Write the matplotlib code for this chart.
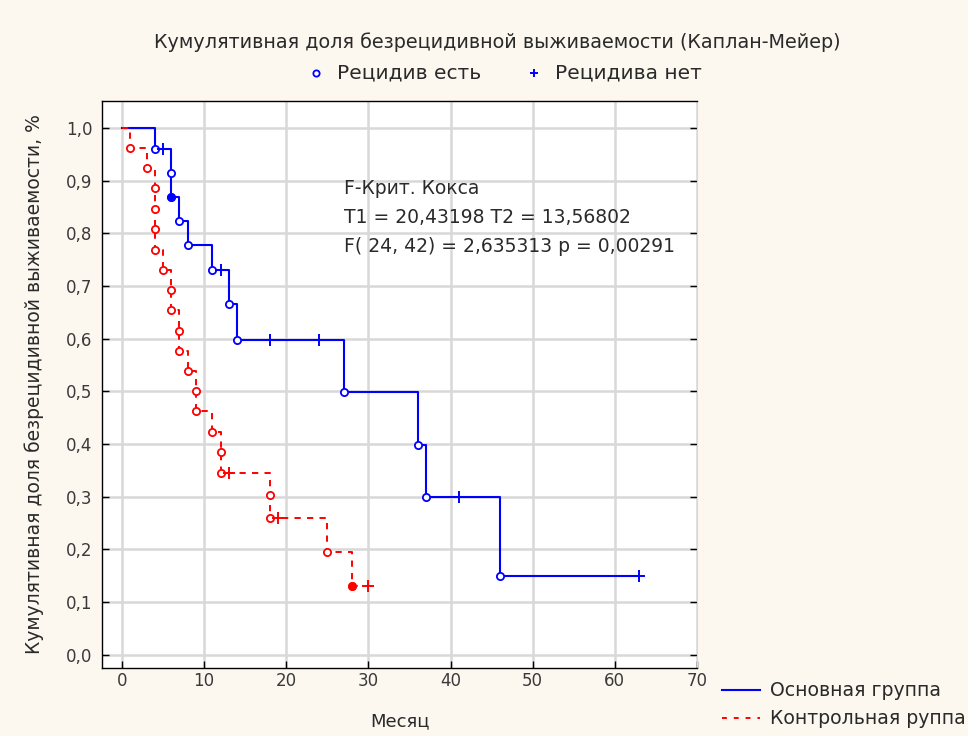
import matplotlib
matplotlib.use("Agg")
import matplotlib.pyplot as plt
from matplotlib.lines import Line2D

plt.rcParams['font.family'] = ['DejaVu Sans']
plt.rcParams['lines.scale_dashes'] = False

# Main group: event times (months) and Kaplan-Meier survival after each event
main_event_t = [4, 6, 6, 7, 8, 11, 13, 14, 27, 36, 37, 46]
main_event_s = [0.96, 0.914, 0.869, 0.823, 0.777, 0.731, 0.665, 0.598, 0.499, 0.399, 0.299, 0.150]
main_cens_t = [5, 12, 18, 24, 41, 63]
main_cens_s = [0.96, 0.731, 0.598, 0.598, 0.299, 0.150]
main_filled = [2]  # index of event drawn with a filled marker

# Control group
ctrl_event_t = [1, 3, 4, 4, 4, 4, 5, 6, 6, 7, 7, 8, 9, 9, 11, 12, 12, 18, 18, 25, 28]
ctrl_event_s = [0.962, 0.923, 0.885, 0.846, 0.808, 0.769, 0.731, 0.692, 0.654, 0.615,
                0.577, 0.538, 0.500, 0.462, 0.423, 0.385, 0.346, 0.303, 0.260, 0.195, 0.130]
ctrl_cens_t = [13, 19, 30]
ctrl_cens_s = [0.346, 0.260, 0.130]
ctrl_filled = [20]

x_ticks = [0, 10, 20, 30, 40, 50, 60, 70]
y_ticks = [0.0, 0.1, 0.2, 0.3, 0.4, 0.5, 0.6, 0.7, 0.8, 0.9, 1.0]

title = "Кумулятивная доля безрецидивной выживаемости (Каплан-Мейер)"
x_label = "Месяц"
y_label = "Кумулятивная доля безрецидивной выживаемости, %"
stats_lines = ["F-Крит. Кокса", "T1 = 20,43198 T2 = 13,56802", "F( 24, 42) = 2,635313 p = 0,00291"]
group_names = ["Основная группа", "Контрольная руппа"]
marker_names = ["Рецидив есть", "Рецидива нет"]

BLUE = "#0000ff"
RED = "#ff0000"
BG = "#fcf8ef"
TXT = "#2a2a2a"


def step_path(ev_t, ev_s, end_t):
    xs, ys = [0.0], [1.0]
    cur = 1.0
    for t, s in zip(ev_t, ev_s):
        xs += [t, t]
        ys += [cur, s]
        cur = s
    xs.append(end_t)
    ys.append(cur)
    return xs, ys


fig = plt.figure(figsize=(9.68, 7.36), dpi=100, facecolor=BG)
ax = fig.add_axes([102 / 968, 1 - 668 / 736, (697 - 102) / 968, (668 - 101) / 736])
ax.set_facecolor("white")

ax.set_xlim(-2.43, 70)
ax.set_ylim(-0.025, 1.051)
ax.set_xticks(x_ticks)
ax.set_yticks(y_ticks)
ax.set_xticklabels([str(v) for v in x_ticks])
ax.set_yticklabels([f"{v:.1f}".replace(".", ",") for v in y_ticks])
ax.grid(True, color="#d8d8d8", linewidth=1.8)
ax.set_axisbelow(True)
ax.tick_params(axis="both", direction="in", length=5, width=1, labelsize=12,
               colors="black", labelcolor="#3a3a3a")
ax.tick_params(axis="y", right=True, pad=7)
ax.tick_params(axis="x", pad=3)
for side in ["left", "bottom", "top"]:
    ax.spines[side].set_color("black")
    ax.spines[side].set_linewidth(1)
ax.spines["right"].set_color("#d8d8d8")

# Main group curve (solid)
mx, my = step_path(main_event_t, main_event_s, max(main_cens_t))
ax.plot(mx, my, color=BLUE, linewidth=1.5)
ax.plot(main_event_t, main_event_s, linestyle="none", marker="o", markersize=5.2,
        markerfacecolor="white", markeredgecolor=BLUE, markeredgewidth=1.3)
ax.plot([main_event_t[i] for i in main_filled], [main_event_s[i] for i in main_filled],
        linestyle="none", marker="o", markersize=5.2, color=BLUE)
ax.plot(main_cens_t, main_cens_s, linestyle="none", marker="+", markersize=8,
        markeredgewidth=1.4, color=BLUE)

# Control group curve (dashed)
cx, cy = step_path(ctrl_event_t, ctrl_event_s, max(ctrl_cens_t))
ln, = ax.plot(cx, cy, color=RED, linewidth=1.4)
ln.set_dashes([4.5, 4.5])
ax.plot(ctrl_event_t, ctrl_event_s, linestyle="none", marker="o", markersize=5.2,
        markerfacecolor="white", markeredgecolor=RED, markeredgewidth=1.3)
ax.plot([ctrl_event_t[i] for i in ctrl_filled], [ctrl_event_s[i] for i in ctrl_filled],
        linestyle="none", marker="o", markersize=5.2, color=RED)
ax.plot(ctrl_cens_t, ctrl_cens_s, linestyle="none", marker="+", markersize=8,
        markeredgewidth=1.4, color=RED)

# Cox F-test results
for i, s in enumerate(stats_lines):
    ax.text(27.0, 0.885 - i * 0.055, s, fontsize=13.5, color=TXT, va="center", ha="left")

ax.set_ylabel(y_label, fontsize=13.5, color=TXT, labelpad=16)
fig.text(400 / 968, 1 - 721 / 736, x_label, fontsize=13, ha="center", va="center", color=TXT)

fig.text(497 / 968, 1 - 42 / 736, title, fontsize=13.8, ha="center", va="center", color=TXT)

# Marker legend above the plot
fig.add_artist(Line2D([316 / 968], [1 - 73 / 736], marker="o", markersize=4.5,
                      markerfacecolor="white", markeredgecolor=BLUE, markeredgewidth=1.3,
                      transform=fig.transFigure))
fig.text(337 / 968, 1 - 73 / 736, marker_names[0], fontsize=14.5, va="center", color=TXT)
fig.add_artist(Line2D([534 / 968], [1 - 73 / 736], marker="+", markersize=6,
                      markeredgewidth=1.4, color=BLUE, transform=fig.transFigure))
fig.text(555 / 968, 1 - 73 / 736, marker_names[1], fontsize=14.5, va="center", color=TXT)

# Group legend below the plot
fig.add_artist(Line2D([722 / 968, 760 / 968], [1 - 690 / 736] * 2, color=BLUE,
                      linewidth=1.5, transform=fig.transFigure))
fig.text(770 / 968, 1 - 690 / 736, group_names[0], fontsize=13.6, va="center", color=TXT)
l2 = Line2D([722 / 968, 760 / 968], [1 - 718 / 736] * 2, color=RED,
            linewidth=1.4, transform=fig.transFigure)
l2.set_dashes([3.5, 5])
fig.add_artist(l2)
fig.text(770 / 968, 1 - 718 / 736, group_names[1], fontsize=13.6, va="center", color=TXT)

fig.savefig("out.png", dpi=100, facecolor=BG)
